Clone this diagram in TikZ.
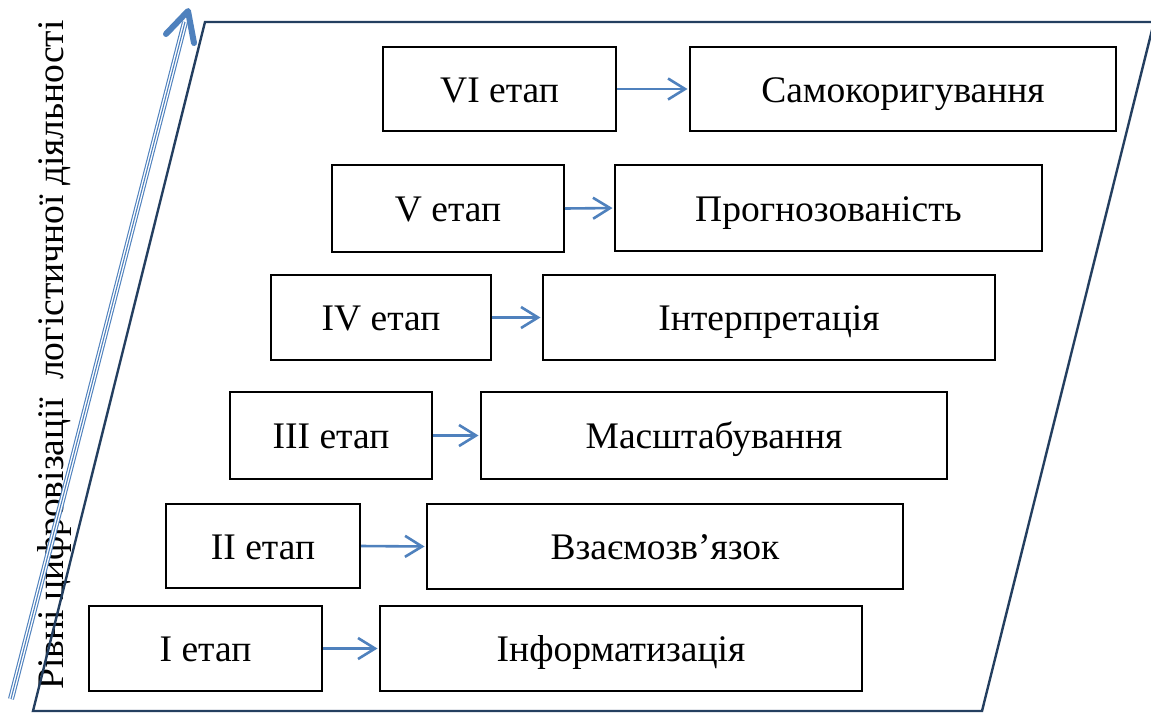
\documentclass[tikz,border=0pt]{standalone}
\usepackage{fontspec}
\setmainfont{Liberation Serif}
\usetikzlibrary{arrows.meta}
\definecolor{frameblue}{HTML}{243F60}
\definecolor{arrblue}{HTML}{4F81BD}
\begin{document}
\begin{tikzpicture}[x=1pt,y=-1pt,
  box/.style={draw=black, line width=2pt, fill=white, inner sep=0pt,
    text height=26pt, text depth=0pt,
    font=\fontsize{37.5}{40}\selectfont},
  conn/.style={draw=arrblue, line width=2.6pt,
    -{Straight Barb[length=17pt,width=21pt,line width=2.6pt]}, shorten >=1.5pt}
]
\useasboundingbox (0,0) rectangle (1151,713);
\clip (0,0) rectangle (1151,713);
\fill[white] (0,0) rectangle (1151,713);

% vertical label
\node[rotate=90, anchor=base west, inner sep=0pt, font=\fontsize{37.5}{40}\selectfont] (lbl) at (63,690)
  {Рівні цифровізації\ \ логістичної діяльності};

% parallelogram frame
\draw[frameblue, line width=2.4pt, line join=miter]
  (205,22) -- (1154,22) -- (982,711) -- (33,711) -- cycle;

% triple axis line
\coordinate (ax0) at (11,699);
\coordinate (ax1) at (185,22);
\draw[arrblue, line width=6pt] (ax0) -- (ax1);
\draw[white, line width=3.8pt] (ax0) -- (ax1);
\draw[arrblue, line width=1.1pt] (ax0) -- (ax1);
\coordinate (tipA) at (166,34);
\coordinate (tip) at (188,11);
\coordinate (tipB) at (194,43);
\draw[arrblue, line width=6pt, line cap=round, line join=round] (tipA) -- (tip) -- (tipB);

% boxes
\node[box, minimum width=233pt, minimum height=85pt] (s1) at (205.5,648.5) {I етап};
\node[box, minimum width=482pt, minimum height=85pt] (t1) at (621,648.5) {Інформатизація};
\node[box, minimum width=194pt, minimum height=84pt] (s2) at (263,546) {II етап};
\node[box, minimum width=476pt, minimum height=85pt] (t2) at (665,546.5) {Взаємозв’язок};
\node[box, minimum width=202pt, minimum height=87pt] (s3) at (331,435.5) {III етап};
\node[box, minimum width=466pt, minimum height=87pt] (t3) at (714,435.5) {Масштабування};
\node[box, minimum width=220pt, minimum height=85pt] (s4) at (381,317.5) {IV етап};
\node[box, minimum width=452pt, minimum height=85pt] (t4) at (769,317.5) {Інтерпретація};
\node[box, minimum width=232pt, minimum height=87pt] (s5) at (448,208.5) {V етап};
\node[box, minimum width=427pt, minimum height=86pt] (t5) at (828.5,208) {Прогнозованість};
\node[box, minimum width=233pt, minimum height=84pt] (s6) at (499.5,89) {VI етап};
\node[box, minimum width=426pt, minimum height=84pt] (t6) at (903,89) {Самокоригування};

% connectors
\draw[conn] (s1.east) -- (t1.west);
\draw[conn] (s2.east) -- (t2.west);
\draw[conn] (s3.east) -- (t3.west);
\draw[conn] (s4.east) -- (t4.west);
\draw[conn] (s5.east) -- (t5.west);
\draw[conn] (s6.east) -- (t6.west);
\end{tikzpicture}
\end{document}
